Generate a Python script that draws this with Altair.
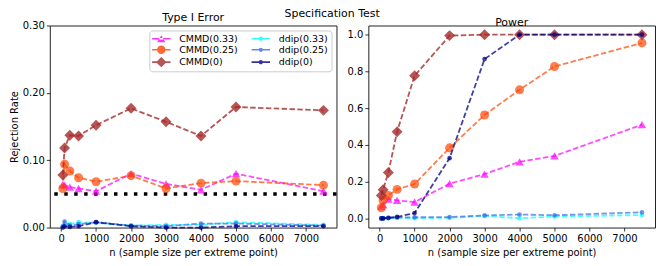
import altair as alt
import pandas as pd

# ---------------- data ----------------
N = [50, 100, 250, 500, 1000, 2000, 3000, 4000, 5000, 7500]
SERIES = ["CMMD(0.33)", "CMMD(0.25)", "CMMD(0)", "ddip(0.33)", "ddip(0.25)", "ddip(0)"]

TYPE1 = {
    "CMMD(0.33)": [0.064, 0.063, 0.060, 0.058, 0.054, 0.080, 0.065, 0.056, 0.080, 0.054],
    "CMMD(0.25)": [0.058, 0.094, 0.084, 0.074, 0.068, 0.077, 0.058, 0.066, 0.069, 0.063],
    "CMMD(0)":    [0.078, 0.118, 0.137, 0.136, 0.152, 0.177, 0.157, 0.136, 0.179, 0.174],
    "ddip(0.33)": [0.002, 0.006, 0.005, 0.008, 0.007, 0.003, 0.004, 0.004, 0.008, 0.004],
    "ddip(0.25)": [0.002, 0.009, 0.003, 0.005, 0.008, 0.003, 0.002, 0.006, 0.006, 0.003],
    "ddip(0)":    [0.000, 0.002, 0.001, 0.002, 0.008, 0.002, 0.000, 0.000, 0.002, 0.002],
}
POWER = {
    "CMMD(0.33)": [0.066, 0.075, 0.105, 0.098, 0.089, 0.189, 0.241, 0.308, 0.340, 0.510],
    "CMMD(0.25)": [0.058, 0.098, 0.125, 0.158, 0.187, 0.384, 0.563, 0.700, 0.827, 0.955],
    "CMMD(0)":    [0.125, 0.156, 0.250, 0.472, 0.776, 0.995, 1.000, 1.000, 1.000, 1.000],
    "ddip(0.33)": [0.000, 0.000, 0.001, 0.003, 0.001, 0.003, 0.013, 0.001, 0.010, 0.018],
    "ddip(0.25)": [0.000, 0.000, 0.002, 0.005, 0.006, 0.007, 0.016, 0.021, 0.017, 0.033],
    "ddip(0)":    [0.000, 0.000, 0.003, 0.008, 0.029, 0.328, 0.867, 1.000, 1.000, 1.000],
}
ALPHA_LEVEL = [0.05]

X_TICKS = [0, 1000, 2000, 3000, 4000, 5000, 6000, 7000]
Y1_TICKS = [0.0, 0.05, 0.10, 0.15, 0.20, 0.25, 0.30]
Y2_TICKS = [0.0, 0.2, 0.4, 0.6, 0.8, 1.0]

# ---------------- styles ----------------
COLORS = ["#ff00ff", "#ff4500", "#a52a2a", "#00ffff", "#4169e1", "#000080"]
SHAPES = ["triangle-up", "circle", "diamond", "circle", "circle", "circle"]
SIZES = [72, 81, 121, 22, 22, 22]
ALPHAS = [0.7, 0.7, 0.8, 0.7, 0.7, 0.75]

# legend handle: a short line (thin filled bar) with the marker in the middle
BAR = "M-1.85,-0.16L1.85,-0.16L1.85,0.16L-1.85,0.16Z"
def circ(r):
    return f"M{-r},0A{r},{r},0,1,1,{r},0A{r},{r},0,1,1,{-r},0Z"
LEG_PATHS = [
    BAR + "M0,-0.7L-0.82,0.7L0.82,0.7Z",
    BAR + circ(0.85),
    BAR + "M-1.05,0L0,-1.05L1.05,0L0,1.05Z",
    BAR + circ(0.42),
    BAR + circ(0.42),
    BAR + circ(0.42),
]

FONT = "DejaVu Sans"
XDOM = [-322.5, 7872.5]
W, H = 288, 203


def long_df(values):
    rows = []
    for s in SERIES:
        for n, v in zip(N, values[s]):
            rows.append({"n": n, "rate": v, "series": s})
    return pd.DataFrame(rows)


def panel(values, title, ydom, yticks, yfmt, ytitle, left):
    df = long_df(values)
    base = alt.Chart(df)
    x = alt.X("n:Q", scale=alt.Scale(domain=XDOM, nice=False, zero=False),
              axis=alt.Axis(values=X_TICKS, format="d", title="n (sample size per extreme point)",
                            titlePadding=5))
    y = alt.Y("rate:Q", scale=alt.Scale(domain=ydom, nice=False, zero=False),
              axis=alt.Axis(values=yticks, format=yfmt, title=ytitle))
    layers = []
    if left:
        layers.append(
            alt.Chart(pd.DataFrame({"level": ALPHA_LEVEL}))
            .mark_rule(color="black", strokeWidth=3.5, strokeDash=[3.5, 6.5], strokeCap="butt")
            .encode(y=alt.Y("level:Q", scale=alt.Scale(domain=ydom, nice=False, zero=False)))
        )
    for s, c, shp, sz, a in zip(SERIES, COLORS, SHAPES, SIZES, ALPHAS):
        sub = base.transform_filter(alt.datum.series == s)
        layers.append(sub.mark_line(color=c, strokeWidth=1.8, strokeDash=[5.5, 2.4], opacity=a)
                      .encode(x=x, y=y))
        layers.append(sub.mark_point(filled=True, shape=shp, size=sz, color=c, opacity=a, strokeWidth=0)
                      .encode(x=x, y=y))
    if left:
        leg = alt.Legend(orient="none", legendX=100, legendY=5, columns=2, columnPadding=13,
                         rowPadding=1.4, padding=3, symbolOffset=4, labelOffset=13, symbolSize=100,
                         labelFontSize=9.5, labelFont=FONT, labelColor="black", title=None,
                         strokeColor="#cccccc", fillColor="rgba(255,255,255,0.8)", cornerRadius=3,
                         symbolStrokeWidth=0, symbolOpacity=0.8)
        layers.append(
            base.transform_filter("false")
            .mark_point(filled=True, strokeWidth=0)
            .encode(
                color=alt.Color("series:N", scale=alt.Scale(domain=SERIES, range=COLORS), legend=leg),
                shape=alt.Shape("series:N", scale=alt.Scale(domain=SERIES, range=LEG_PATHS), legend=leg),
            )
        )
    return alt.layer(*layers).properties(
        width=W, height=H,
        title=alt.TitleParams(title, fontSize=11, fontWeight="normal", font=FONT, color="black", offset=-2.7),
    )


left = panel(TYPE1, "Type I Error", [0.0, 0.30], Y1_TICKS, ".2f", "Rejection Rate", True)
right = panel(POWER, "Power", [-0.05, 1.05], Y2_TICKS, ".1f", None, False)

chart = (
    alt.hconcat(left, right, spacing=7,
                title=alt.TitleParams("Specification Test", fontSize=11, fontWeight="normal",
                                      font=FONT, color="black", offset=-7, anchor="middle"))
    .resolve_scale(color="independent", shape="independent")
    .resolve_legend(color="independent", shape="independent")
    .properties(padding={"left": 0, "top": -1, "right": 0, "bottom": 0})
    .configure_view(stroke="#222222", strokeWidth=1)
    .configure_axis(labelFont=FONT, labelFontSize=10, labelColor="black", tickColor="black",
                    tickSize=3.5, tickWidth=0.8, labelPadding=2, titleFont=FONT, titleFontSize=10,
                    titleFontWeight="normal", titleColor="black", grid=False, domain=False,
                    titlePadding=3)
)

chart.save("out.html", embed_options={"renderer": "svg", "actions": False})
